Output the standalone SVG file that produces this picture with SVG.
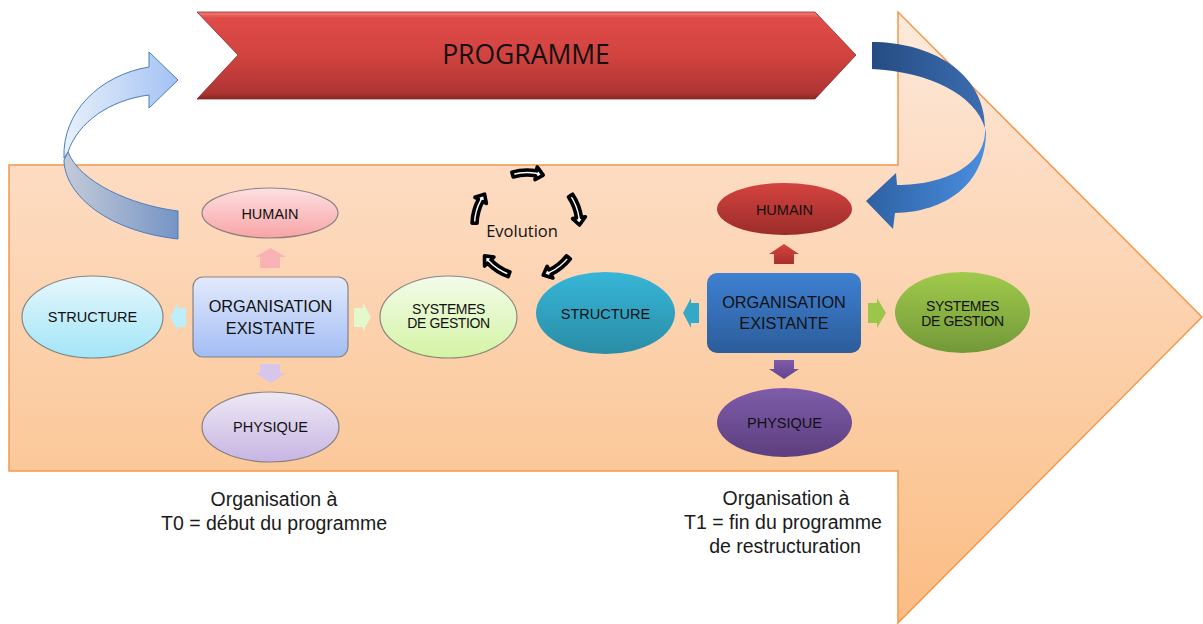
<svg xmlns="http://www.w3.org/2000/svg" width="1203" height="624" viewBox="0 0 1203 624">
<defs>
<linearGradient id="gOrange" gradientUnits="userSpaceOnUse" x1="0" y1="12" x2="0" y2="623"><stop offset="0" stop-color="#fdebdc"/><stop offset="0.25" stop-color="#fddcc3"/><stop offset="0.75" stop-color="#fbc899"/><stop offset="1" stop-color="#fbbc84"/></linearGradient>
<linearGradient id="gProg" x1="0" y1="0" x2="0" y2="1"><stop offset="0" stop-color="#f47d7b"/><stop offset="0.07" stop-color="#e04b48"/><stop offset="0.5" stop-color="#d1433f"/><stop offset="0.93" stop-color="#af3533"/><stop offset="1" stop-color="#862725"/></linearGradient>
<linearGradient id="gLUp" gradientUnits="userSpaceOnUse" x1="64" y1="0" x2="178" y2="0"><stop offset="0" stop-color="#e8f0fc"/><stop offset="1" stop-color="#a3c2f3"/></linearGradient>
<linearGradient id="gLLow" gradientUnits="userSpaceOnUse" x1="64" y1="0" x2="178" y2="0"><stop offset="0" stop-color="#c4cbd8"/><stop offset="1" stop-color="#7594c6"/></linearGradient>
<linearGradient id="gRUp" gradientUnits="userSpaceOnUse" x1="872" y1="0" x2="986" y2="0"><stop offset="0" stop-color="#254c82"/><stop offset="1" stop-color="#3c6eb3"/></linearGradient>
<linearGradient id="gRLow" gradientUnits="userSpaceOnUse" x1="866" y1="0" x2="986" y2="0"><stop offset="0" stop-color="#2e60a2"/><stop offset="1" stop-color="#4a8fe0"/></linearGradient>
<linearGradient id="lHum" x1="0" y1="0" x2="0" y2="1"><stop offset="0" stop-color="#fde0e1"/><stop offset="1" stop-color="#f8a4a6"/></linearGradient>
<linearGradient id="lStr" x1="0" y1="0" x2="0" y2="1"><stop offset="0" stop-color="#e6f7fd"/><stop offset="1" stop-color="#a2e5f7"/></linearGradient>
<linearGradient id="lOrg" x1="0" y1="0" x2="0" y2="1"><stop offset="0" stop-color="#e3eafc"/><stop offset="1" stop-color="#a2bdf4"/></linearGradient>
<linearGradient id="lSys" x1="0" y1="0" x2="0" y2="1"><stop offset="0" stop-color="#f3fbea"/><stop offset="1" stop-color="#d4f4a4"/></linearGradient>
<linearGradient id="lPhy" x1="0" y1="0" x2="0" y2="1"><stop offset="0" stop-color="#eee8f5"/><stop offset="1" stop-color="#c7b5e3"/></linearGradient>
<linearGradient id="rHum" x1="0" y1="0" x2="0" y2="1"><stop offset="0" stop-color="#d4433f"/><stop offset="1" stop-color="#9b2c2a"/></linearGradient>
<linearGradient id="rStr" x1="0" y1="0" x2="0" y2="1"><stop offset="0" stop-color="#37b6d8"/><stop offset="1" stop-color="#2a8da6"/></linearGradient>
<linearGradient id="rOrg" x1="0" y1="0" x2="0" y2="1"><stop offset="0" stop-color="#3e80d2"/><stop offset="1" stop-color="#2c5d9b"/></linearGradient>
<linearGradient id="rSys" x1="0" y1="0" x2="0" y2="1"><stop offset="0" stop-color="#a0ca4b"/><stop offset="1" stop-color="#739839"/></linearGradient>
<linearGradient id="rPhy" x1="0" y1="0" x2="0" y2="1"><stop offset="0" stop-color="#7e5caa"/><stop offset="1" stop-color="#5c3f7e"/></linearGradient>
<linearGradient id="aRed" x1="0" y1="0" x2="0" y2="1"><stop offset="0" stop-color="#d24340"/><stop offset="1" stop-color="#a9302e"/></linearGradient>
<linearGradient id="aPur" x1="0" y1="0" x2="0" y2="1"><stop offset="0" stop-color="#7d5ba9"/><stop offset="1" stop-color="#62458a"/></linearGradient>
<path id="evoArrow" d="M -15.16,-52.87 A 55 55 0 0 1 9.55,-54.16 L 10.24,-58.10 L 16.22,-49.93 L 7.99,-45.30 L 8.68,-49.24 A 50 50 0 0 0 -13.78,-48.06 Z"/>
</defs>
<style>
.lbl{font-family:"Liberation Sans",Arial,sans-serif;font-size:14.5px;fill:#111;text-anchor:middle}
.org{font-family:"Liberation Sans",Arial,sans-serif;font-size:16.3px;fill:#111;text-anchor:middle}
.sys{font-family:"Liberation Sans",Arial,sans-serif;font-size:14px;fill:#111;text-anchor:middle;letter-spacing:-0.4px}
.cap{font-family:"Liberation Sans",Arial,sans-serif;font-size:19.5px;fill:#1a1a1a;text-anchor:middle}
.soft{stroke:#6f6f6f;stroke-width:1.2;stroke-opacity:0.8}
.evo{fill:#ffffff;stroke:#000000;stroke-width:3.6;stroke-linejoin:round}
</style>

<!-- big background arrow -->
<path d="M9,165 L898,165 L898,12 L1202,317 L898,623 L898,471 L9,471 Z" fill="url(#gOrange)" stroke="#f5974a" stroke-width="1.5"/>

<!-- programme banner -->
<g id="programme">
<path d="M197,12 L815,12 L856,55 L815,99 L197,99 L238,55 Z" fill="url(#gProg)" stroke="#8a2a28" stroke-width="0.8"/>
<text x="526" y="64" style="font-family:'Open Sans',sans-serif;font-size:26.5px;fill:#111;text-anchor:middle">PROGRAMME</text>
</g>

<!-- left cluster (T0) -->
<g id="t0-humain"><ellipse cx="270" cy="213" rx="68" ry="25" fill="url(#lHum)" class="soft"/><text x="270" y="218.5" class="lbl">HUMAIN</text></g>
<g id="t0-structure"><ellipse cx="92.5" cy="317" rx="70.5" ry="41" fill="url(#lStr)" class="soft"/><text x="92.5" y="322" class="lbl">STRUCTURE</text></g>
<g id="t0-organisation"><rect x="193" y="277" width="155" height="80" rx="10" fill="url(#lOrg)" class="soft"/><text x="270.5" y="311.5" class="org">ORGANISATION</text><text x="270.5" y="333.5" class="org">EXISTANTE</text></g>
<g id="t0-systemes"><ellipse cx="448.5" cy="317" rx="68.5" ry="41" fill="url(#lSys)" class="soft"/><text x="448.5" y="314" class="sys">SYSTEMES</text><text x="448.5" y="328" class="sys">DE GESTION</text></g>
<g id="t0-physique"><ellipse cx="270.5" cy="427" rx="68.5" ry="35" fill="url(#lPhy)" class="soft"/><text x="270.5" y="432" class="lbl">PHYSIQUE</text></g>

<!-- right cluster (T1) -->
<g id="t1-humain"><ellipse cx="784.5" cy="209" rx="67.5" ry="26" fill="url(#rHum)"/><text x="784.5" y="214.5" class="lbl">HUMAIN</text></g>
<g id="t1-structure"><ellipse cx="605.5" cy="313" rx="69.5" ry="41" fill="url(#rStr)"/><text x="605.5" y="318.5" class="lbl">STRUCTURE</text></g>
<g id="t1-organisation"><rect x="707" y="273" width="154" height="80" rx="10" fill="url(#rOrg)"/><text x="784" y="308" class="org">ORGANISATION</text><text x="784" y="329" class="org">EXISTANTE</text></g>
<g id="t1-systemes"><ellipse cx="962.5" cy="312.5" rx="67.5" ry="40.5" fill="url(#rSys)"/><text x="962.5" y="311" class="sys">SYSTEMES</text><text x="962.5" y="326" class="sys">DE GESTION</text></g>
<g id="t1-physique"><ellipse cx="784.5" cy="422.5" rx="67.5" ry="34.5" fill="url(#rPhy)"/><text x="784.5" y="427.5" class="lbl">PHYSIQUE</text></g>

<!-- evolution label -->
<g id="evolution"><text x="522" y="237" style="font-family:'Open Sans',sans-serif;font-size:16.5px;fill:#111;text-anchor:middle">Evolution</text></g>

<!-- captions -->
<g id="caption-t0"><text x="274" y="506" class="cap">Organisation à</text><text x="274" y="530" class="cap">T0 = début du programme</text></g>
<g id="caption-t1"><text x="786" y="505" class="cap">Organisation à</text><text x="783" y="529" class="cap">T1 = fin du programme</text><text x="785" y="553" class="cap">de restructuration</text></g>

<!-- connectors -->
<g id="connectors">
<!-- left cluster block arrows -->
<path d="M270.5,248 L286,257 L280,257 L280,268 L260,268 L260,257 L255,257 Z" fill="#f9b3b5"/>
<path d="M170,317 L178,303 L178,308 L186,308 L186,327 L178,327 L178,331 Z" fill="#bdeefa"/>
<path d="M371,317 L363,303 L363,308 L354,308 L354,327 L363,327 L363,331 Z" fill="#e4f9cb"/>
<path d="M270.5,383 L286,373 L280,373 L280,364 L260,364 L260,373 L255,373 Z" fill="#d6c6ec"/>
<!-- right cluster block arrows -->
<path d="M784,244 L799,254 L794,254 L794,264 L774,264 L774,254 L769,254 Z" fill="url(#aRed)"/>
<path d="M683,313 L691,298 L691,303 L699,303 L699,323 L691,323 L691,328 Z" fill="#35a8c8"/>
<path d="M886,313 L877,298 L877,303 L868,303 L868,323 L877,323 L877,328 Z" fill="#9bc64a"/>
<path d="M784,379 L799,369 L794,369 L794,360 L774,360 L774,369 L769,369 Z" fill="url(#aPur)"/>
<!-- left curved arrow (T0 to programme) -->
<path d="M68,152 C80,182 130,205 178,211 L178,239 C100,230 64,190 64,160 Z" fill="url(#gLLow)" stroke="#4a7ebb" stroke-width="1"/>
<path d="M64,158 C62,112 100,75 149,67 L149,52 L178,80 L149,108 L149,95 C110,100 78,122 68,152 Z" fill="url(#gLUp)" stroke="#4a7ebb" stroke-width="1"/>
<!-- right curved arrow (programme to T1) -->
<path d="M872,42 C930,42 985,72 985,128 C975,95 930,72 872,69 Z" fill="url(#gRUp)"/>
<path d="M985,128 C987,165 945,185 897,185 L896,173 L866,201 L893,229 L895,213 C945,212 985,185 986,133 Z" fill="url(#gRLow)"/>
<!-- evolution cycle arrows -->
<g transform="translate(527,225)">
<use href="#evoArrow" class="evo"/>
<use href="#evoArrow" class="evo" transform="rotate(72)"/>
<use href="#evoArrow" class="evo" transform="rotate(144)"/>
<use href="#evoArrow" class="evo" transform="rotate(216)"/>
<use href="#evoArrow" class="evo" transform="rotate(288)"/>
</g>
</g>
</svg>
